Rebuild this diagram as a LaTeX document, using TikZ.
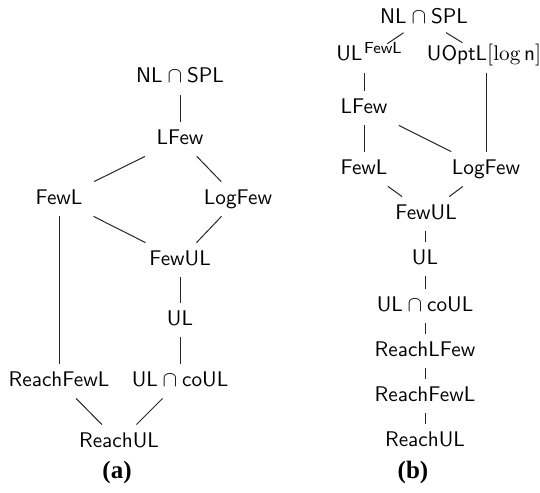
\documentclass[tikz,border=0pt]{standalone}
\usepackage{fontspec}
\newfontfamily\capfont{Liberation Serif}
\begin{document}
\begin{tikzpicture}[x=0.5pt,y=-0.5pt,
  cls/.style={font=\fontsize{10.6}{12.5}\sffamily, text height=7pt, text depth=2pt,
    inner xsep=6pt, inner ysep=4pt, anchor=base},
  lbl/.style={font=\fontsize{12.5}{14}\capfont\bfseries, anchor=base},
  edge/.style={line width=0.5pt, draw=black!85}]
\useasboundingbox (0,0) rectangle (540,492);
% (a)
\node[cls] (aNL) at (180,83) {NL${}\cap{}$SPL};
\node[cls] (aLF) at (180,144) {LFew};
\node[cls] (aFL) at (59,204) {FewL};
\node[cls] (aLog) at (238,204) {LogFew};
\node[cls] (aFUL) at (180,265) {FewUL};
\node[cls] (aUL) at (180,325) {UL};
\node[cls] (aRFL) at (59,386) {ReachFewL};
\node[cls] (aUco) at (180,386) {UL${}\cap{}$coUL};
\node[cls] (aRUL) at (119,447) {ReachUL};
\node[lbl] (alab) at (117,478) {(a)};
\draw[edge] (aNL) -- (aLF);
\draw[edge] (aLF) -- (aFL);
\draw[edge] (aLF) -- (aLog);
\draw[edge] (aFL) -- (aFUL);
\draw[edge] (aLog) -- (aFUL);
\draw[edge] (aFUL) -- (aUL);
\draw[edge] (aUL) -- (aUco);
\draw[edge] (aFL) -- (aRFL);
\draw[edge] (aRFL) -- (aRUL);
\draw[edge] (aUco) -- (aRUL);
% (b)
\node[cls] (bNL) at (424,24) {NL${}\cap{}$SPL};
\node[cls] (bULF) at (369,61) {UL\kern0.8pt\raisebox{3.6pt}{\fontsize{8}{9}\selectfont FewL}};
\node[cls] (bUO) at (484,61) {UOptL$[\log \mathsf{n}]$};
\node[cls] (bLF) at (364,113) {LFew};
\node[cls] (bFL) at (364,174) {FewL};
\node[cls] (bLog) at (486,174) {LogFew};
\node[cls] (bFUL) at (426,219) {FewUL};
\node[cls] (bUL) at (425,264) {UL};
\node[cls] (bUco) at (425,311) {UL${}\cap{}$coUL};
\node[cls] (bRLF) at (425,356) {ReachLFew};
\node[cls] (bRFL) at (425,401) {ReachFewL};
\node[cls] (bRUL) at (425,446) {ReachUL};
\node[lbl] (blab) at (413,478) {(b)};
\draw[edge, shorten <=12.3pt, shorten >=11pt] (bNL.center) -- (bULF.center);
\draw[edge, shorten <=13pt, shorten >=12.7pt] (bNL.center) -- (bUO.center);
\draw[edge] (bULF.south -| bLF.north) -- (bLF);
\draw[edge] (bUO.south -| bLog.north) -- (bLog);
\draw[edge] (bLF) -- (bFL);
\draw[edge] (bLF) -- (bLog);
\draw[edge] (bFL) -- (bFUL);
\draw[edge] (bLog) -- (bFUL);
\draw[edge] (bFUL.south -| bUL.north) -- (bUL);
\draw[edge] (bUL) -- (bUco);
\draw[edge] (bUco) -- (bRLF);
\draw[edge] (bRLF) -- (bRFL);
\draw[edge] (bRFL) -- (bRUL);
\end{tikzpicture}
\end{document}
